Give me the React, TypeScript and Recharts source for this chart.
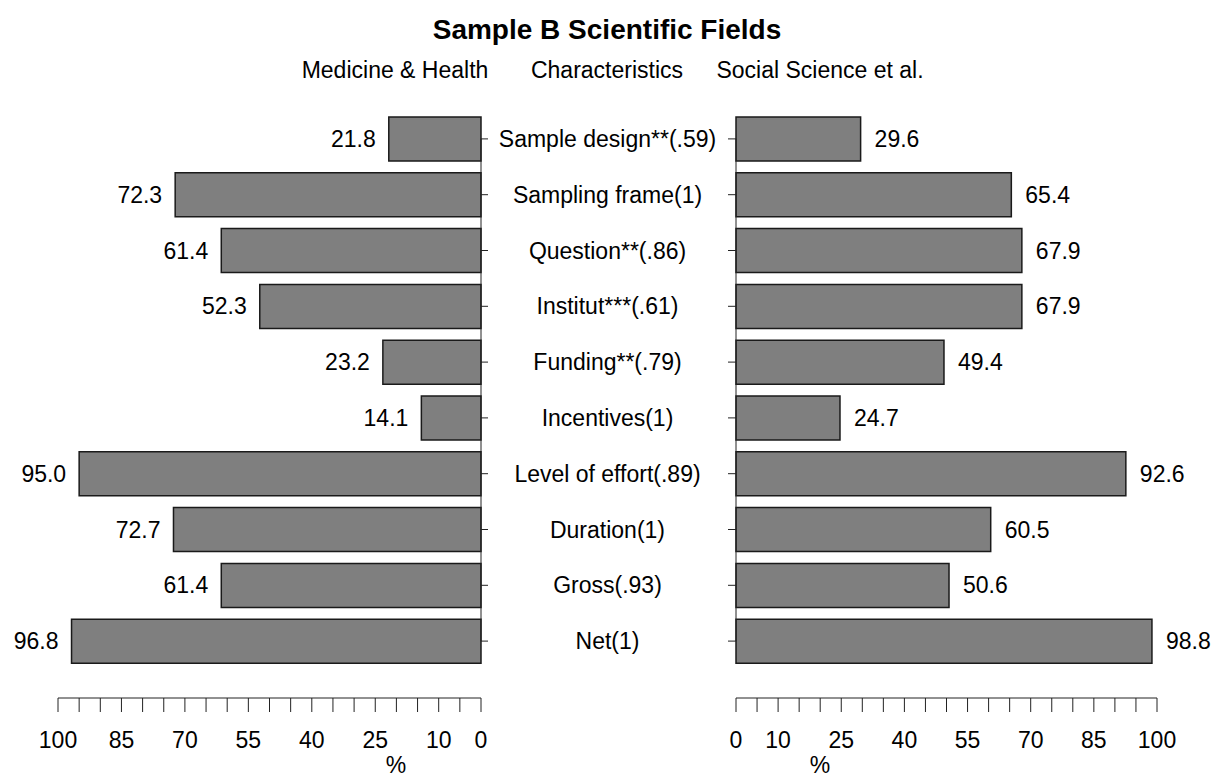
import React from 'react';
import { BarChart, Bar, XAxis, YAxis, LabelList, ReferenceLine } from 'recharts';

const CATEGORIES = [
  'Sample design**(.59)',
  'Sampling frame(1)',
  'Question**(.86)',
  'Institut***(.61)',
  'Funding**(.79)',
  'Incentives(1)',
  'Level of effort(.89)',
  'Duration(1)',
  'Gross(.93)',
  'Net(1)',
];
const MEDICINE = [21.8, 72.3, 61.4, 52.3, 23.2, 14.1, 95.0, 72.7, 61.4, 96.8];
const SOCIAL = [29.6, 65.4, 67.9, 67.9, 49.4, 24.7, 92.6, 60.5, 50.6, 98.8];
const TICKS = [0, 5, 10, 15, 20, 25, 30, 35, 40, 45, 50, 55, 60, 65, 70, 75, 80, 85, 90, 95, 100];
const TICK_LABELS = [0, 10, 25, 40, 55, 70, 85, 100];

const FONT = '"Liberation Sans", Arial, sans-serif';
const INK = '#000';
const AXIS = '#222';
const BAR_FILL = '#7f7f7f';
const MID_W = 239; // width of the centre label column

const rows = CATEGORIES.map((name, i) => ({ name, med: MEDICINE[i], soc: SOCIAL[i] }));

const fmtTick = (v: number) => (TICK_LABELS.includes(v) ? String(v) : '');

const leftLabel = (props: any) => {
  const { x, y, width, height, value } = props;
  const edge = Math.min(x, x + width);
  return (
    <text x={edge - 13} y={y + height / 2} textAnchor="end" dominantBaseline="central"
      fontSize={23} fontFamily={FONT} fill={INK}>
      {Number(value).toFixed(1)}
    </text>
  );
};

const rightLabel = (props: any) => {
  const { x, y, width, height, value } = props;
  const edge = Math.max(x, x + width);
  return (
    <text x={edge + 14} y={y + height / 2} textAnchor="start" dominantBaseline="central"
      fontSize={23} fontFamily={FONT} fill={INK}>
      {Number(value).toFixed(1)}
    </text>
  );
};

// category names sit in the gap between the two panels
const CenterTick = (props: any) => {
  const { x, y, payload } = props;
  return (
    <text x={x + MID_W / 2} y={y} textAnchor="middle" dominantBaseline="central"
      fontSize={23} fontFamily={FONT} fill={INK}>
      {payload.value}
    </text>
  );
};

const Caption = ({ cx, cy, children, bold = false, size = 23 }: any) => (
  <div
    style={{
      position: 'absolute',
      left: cx - 250,
      width: 500,
      top: cy - 12,
      height: 24,
      lineHeight: '24px',
      textAlign: 'center',
      fontFamily: FONT,
      fontSize: size,
      fontWeight: bold ? 700 : 400,
      color: INK,
      whiteSpace: 'nowrap',
    }}
  >
    {children}
  </div>
);

export default function App() {
  return (
    <div style={{ position: 'absolute', left: 0, top: 0, width: 1216, height: 778, background: '#fff', overflow: 'hidden' }}>
      <Caption cx={607} cy={30} bold size={28}>Sample B Scientific Fields</Caption>
      <Caption cx={395} cy={70}>Medicine &amp; Health</Caption>
      <Caption cx={607} cy={70}>Characteristics</Caption>
      <Caption cx={820} cy={70}>Social Science et al.</Caption>
      <Caption cx={396} cy={765}>%</Caption>
      <Caption cx={820} cy={765}>%</Caption>

      <div style={{ position: 'absolute', left: 0, top: 0 }}>
        <BarChart width={720} height={778} data={rows} layout="vertical"
          margin={{ top: 111, right: 0, bottom: 30, left: 58 }}>
          <XAxis type="number" domain={[0, 100]} reversed ticks={TICKS} interval={0}
            tickFormatter={fmtTick} tickSize={14} tickMargin={20} height={50}
            axisLine={{ stroke: AXIS }} tickLine={{ stroke: AXIS }}
            tick={{ fontSize: 23, fontFamily: FONT, fill: INK }} />
          <YAxis type="category" dataKey="name" orientation="right" width={MID_W}
            padding={{ top: 0, bottom: 29 }} axisLine={false} tickSize={7} tickMargin={0}
            tickLine={{ stroke: AXIS }} tick={<CenterTick />} interval={0} />
          <ReferenceLine segment={[{ x: 0, y: CATEGORIES[0] }, { x: 0, y: CATEGORIES[CATEGORIES.length - 1] }]}
            stroke={AXIS} />
          <Bar dataKey="med" fill={BAR_FILL} stroke="#1a1a1a" strokeWidth={1.5} barSize={44}
            isAnimationActive={false}>
            <LabelList dataKey="med" content={leftLabel} />
          </Bar>
        </BarChart>
      </div>

      <div style={{ position: 'absolute', left: 720, top: 0 }}>
        <BarChart width={496} height={778} data={rows} layout="vertical"
          margin={{ top: 111, right: 59, bottom: 30, left: 0 }}>
          <XAxis type="number" domain={[0, 100]} ticks={TICKS} interval={0}
            tickFormatter={fmtTick} tickSize={14} tickMargin={20} height={50}
            axisLine={{ stroke: AXIS }} tickLine={{ stroke: AXIS }}
            tick={{ fontSize: 23, fontFamily: FONT, fill: INK }} />
          <YAxis type="category" dataKey="name" orientation="left" width={16}
            padding={{ top: 0, bottom: 29 }} axisLine={false} tickSize={8}
            tickLine={{ stroke: AXIS }} tickFormatter={() => ''} interval={0} />
          <ReferenceLine segment={[{ x: 0, y: CATEGORIES[0] }, { x: 0, y: CATEGORIES[CATEGORIES.length - 1] }]}
            stroke={AXIS} />
          <Bar dataKey="soc" fill={BAR_FILL} stroke="#1a1a1a" strokeWidth={1.5} barSize={44}
            isAnimationActive={false}>
            <LabelList dataKey="soc" content={rightLabel} />
          </Bar>
        </BarChart>
      </div>
    </div>
  );
}
